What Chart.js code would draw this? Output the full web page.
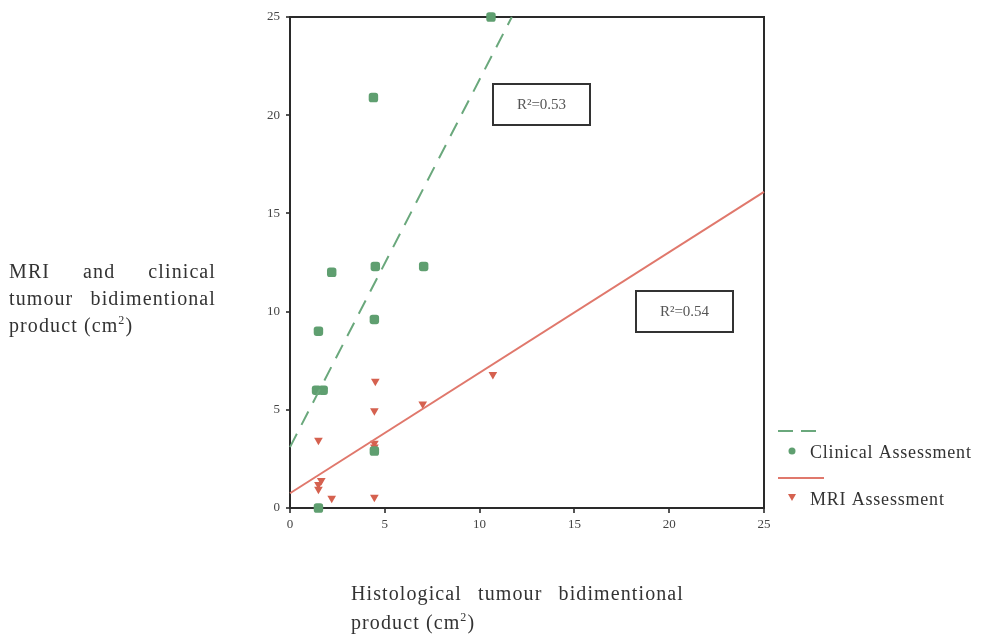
<!DOCTYPE html>
<html>
<head>
<meta charset="utf-8">
<script src="https://cdn.jsdelivr.net/npm/chart.js@4.4.0/dist/chart.umd.min.js"></script>
<style>
  html, body { margin: 0; padding: 0; background: #fff; }
  #wrap { position: relative; width: 981px; height: 635px; }
  canvas { position: absolute; left: 0; top: 0; }
  .axis-title {
    position: absolute;
    font-family: "Liberation Serif", "DejaVu Serif", serif;
    font-size: 20px;
    color: #333;
    letter-spacing: 1.1px;
  }
  .axis-title .j { text-align: justify; text-align-last: justify; }
  #ytitle { left: 9px; top: 258px; width: 207px; line-height: 27px; }
  #xtitle { left: 351px; top: 579px; width: 333px; line-height: 29px; }
  sup { font-size: 12px; line-height: 0; }
</style>
</head>
<body>
<div id="wrap">
  <canvas id="chart" width="981" height="635"></canvas>
  <div id="ytitle" class="axis-title"><div class="j">MRI and clinical</div><div class="j">tumour bidimentional</div><div>product (cm<sup>2</sup>)</div></div>
  <div id="xtitle" class="axis-title"><div class="j">Histological tumour bidimentional</div><div>product (cm<sup>2</sup>)</div></div>
</div>
<script>
// values
const clinicalX = [10.6, 4.4, 2.2, 4.5, 7.05, 4.45, 1.5, 1.4, 1.75, 4.45, 1.5];
const clinicalY = [25, 20.9, 12.0, 12.3, 12.3, 9.6, 9.0, 6.0, 6.0, 2.9, 0];
const mriX = [10.7, 7.0, 4.5, 4.45, 4.45, 4.45, 1.5, 1.65, 1.5, 1.5, 2.2, 4.45];
const mriY = [6.8, 5.3, 6.45, 4.95, 3.3, 3.1, 3.45, 1.4, 1.2, 0.95, 0.5, 0.55];
const clinicalFitX = [0, 11.7];
const clinicalFitY = [3.1, 25];
const mriFitX = [0, 25];
const mriFitY = [0.75, 16.1];
const axisTicks = [0, 5, 10, 15, 20, 25];
const seriesNames = ['Clinical Assessment', 'MRI Assessment'];
const r2Labels = ['R\u00b2=0.53', 'R\u00b2=0.54'];

const green = '#5f9f70';
const greenLine = '#6aa87c';
const red = '#d5614f';
const redLine = '#e0786c';
const serif = '"Liberation Serif", "DejaVu Serif", serif';

const toPoints = (xs, ys) => xs.map((x, i) => ({ x: x, y: ys[i] }));

const framePlugin = {
    id: 'frame',
    beforeDatasetsDraw(chart) {
        const a = chart.chartArea;
        const ctx = chart.ctx;
        ctx.save();
        ctx.strokeStyle = '#2a2a2a';
        ctx.lineWidth = 2;
        ctx.strokeRect(a.left, a.top, a.right - a.left, a.bottom - a.top);
        ctx.restore();
    },
    afterDraw(chart) {
        const ctx = chart.ctx;
        ctx.save();
        // R² boxes
        const boxes = [[493, 84, 97, 41, r2Labels[0]], [636, 291, 97, 41, r2Labels[1]]];
        boxes.forEach(b => {
            ctx.fillStyle = '#fff';
            ctx.fillRect(b[0], b[1], b[2], b[3]);
            ctx.strokeStyle = '#333';
            ctx.lineWidth = 2;
            ctx.strokeRect(b[0], b[1], b[2], b[3]);
            ctx.fillStyle = '#555';
            ctx.font = '15px ' + serif;
            ctx.textAlign = 'center';
            ctx.textBaseline = 'middle';
            ctx.fillText(b[4], b[0] + b[2] / 2, b[1] + b[3] / 2 + 1);
        });
        // legend
        ctx.lineWidth = 2;
        ctx.strokeStyle = greenLine;
        ctx.setLineDash([15, 8]);
        ctx.beginPath(); ctx.moveTo(778, 431); ctx.lineTo(824, 431); ctx.stroke();
        ctx.setLineDash([]);
        ctx.strokeStyle = redLine;
        ctx.beginPath(); ctx.moveTo(778, 478); ctx.lineTo(824, 478); ctx.stroke();
        ctx.fillStyle = green;
        ctx.beginPath(); ctx.arc(792, 451, 3.5, 0, Math.PI * 2); ctx.fill();
        ctx.fillStyle = red;
        ctx.beginPath(); ctx.moveTo(788, 494); ctx.lineTo(796, 494); ctx.lineTo(792, 501); ctx.closePath(); ctx.fill();
        ctx.fillStyle = '#333';
        ctx.font = '18px ' + serif;
        ctx.letterSpacing = '0.8px';
        ctx.textAlign = 'left';
        ctx.textBaseline = 'alphabetic';
        ctx.fillText(seriesNames[0], 810, 458);
        ctx.fillText(seriesNames[1], 810, 505);
        ctx.restore();
    }
};

const ctx = document.getElementById('chart').getContext('2d');
new Chart(ctx, {
    type: 'scatter',
    data: {
        datasets: [
            {
                type: 'line',
                label: 'Clinical fit',
                data: toPoints(clinicalFitX, clinicalFitY),
                borderColor: greenLine,
                borderWidth: 2,
                borderDash: [15, 10],
                pointRadius: 0,
                fill: false
            },
            {
                type: 'line',
                label: 'MRI fit',
                data: toPoints(mriFitX, mriFitY),
                borderColor: redLine,
                borderWidth: 2,
                pointRadius: 0,
                fill: false
            },
            {
                label: seriesNames[0],
                data: toPoints(clinicalX, clinicalY),
                pointStyle: 'rectRounded',
                pointRadius: 5.5,
                backgroundColor: green,
                borderColor: green,
                borderWidth: 0
            },
            {
                label: seriesNames[1],
                data: toPoints(mriX, mriY),
                pointStyle: 'triangle',
                rotation: 180,
                pointRadius: 5,
                backgroundColor: red,
                borderColor: red,
                borderWidth: 0
            }
        ]
    },
    options: {
        responsive: false,
        animation: false,
        clip: false,
        layout: { padding: { left: 250, right: 217, top: 17, bottom: 97 } },
        plugins: {
            legend: { display: false },
            tooltip: { enabled: false }
        },
        scales: {
            x: {
                type: 'linear',
                min: 0,
                max: 25,
                afterBuildTicks: s => { s.ticks = axisTicks.map(v => ({ value: v })); },
                afterFit: s => { s.height = 30; },
                grid: { drawOnChartArea: false, tickLength: 5, color: '#555', lineWidth: 2 },
                border: { color: '#2a2a2a', width: 2 },
                ticks: { color: '#444', padding: 4, font: { family: serif, size: 13 } }
            },
            y: {
                type: 'linear',
                min: 0,
                max: 25,
                afterBuildTicks: s => { s.ticks = axisTicks.map(v => ({ value: v })); },
                afterFit: s => { s.width = 40; },
                grid: { drawOnChartArea: false, tickLength: 4, color: '#555', lineWidth: 2 },
                border: { color: '#2a2a2a', width: 2 },
                ticks: { color: '#444', padding: 6, font: { family: serif, size: 13 } }
            }
        }
    },
    plugins: [framePlugin]
});
</script>
</body>
</html>
